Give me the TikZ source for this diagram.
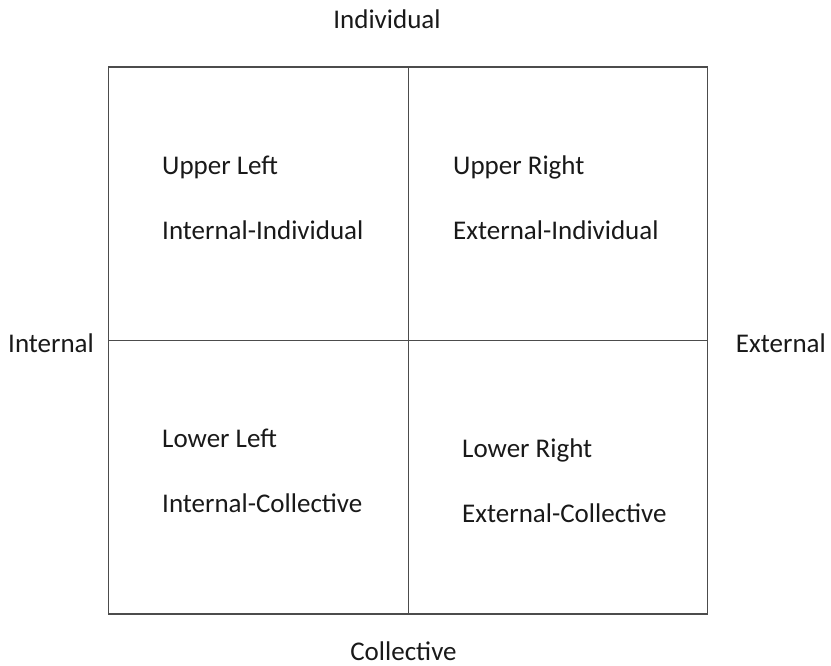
\documentclass[tikz,border=0pt]{standalone}
\usepackage{fontspec}
\setmainfont{Carlito}
\begin{document}
\begin{tikzpicture}[x=1pt,y=-1pt,
  grid/.style={draw=black!70,line width=1.2pt},
  lbl/.style={inner sep=0pt,anchor=base west,text=black!90,font=\fontsize{27}{32}\selectfont}]
\useasboundingbox (0,0) rectangle (831,665);
% outer frame and quadrant dividers
\coordinate (tl) at (108.5,67);
\coordinate (br) at (707.5,614);
\coordinate (mt) at (408.3,67);
\coordinate (mb) at (408.3,614);
\coordinate (ml) at (108.5,340.5);
\coordinate (mr) at (707.5,340.5);
\draw[grid] (tl) rectangle (br);
\draw[grid] (mt) -- (mb);
\draw[grid] (ml) -- (mr);
% axis labels
\node[lbl,anchor=base] (top) at (387,28) {Individual};
\node[lbl,anchor=base,text depth=0pt] (bot) at (403.5,660) {Collective};
\node[lbl] (left) at (8,352) {Internal};
\node[lbl,anchor=base east] (right) at (826,352) {External};
% quadrant labels
\node[lbl] (ul1) at (162,174) {Upper Left};
\node[lbl] (ul2) at (162,239) {Internal-Individual};
\node[lbl] (ur1) at (453,174) {Upper Right};
\node[lbl] (ur2) at (453,239) {External-Individual};
\node[lbl] (ll1) at (162,447) {Lower Left};
\node[lbl] (ll2) at (162,512) {Internal-Collective};
\node[lbl] (lr1) at (462,457) {Lower Right};
\node[lbl] (lr2) at (462,522) {External-Collective};
\end{tikzpicture}
\end{document}
